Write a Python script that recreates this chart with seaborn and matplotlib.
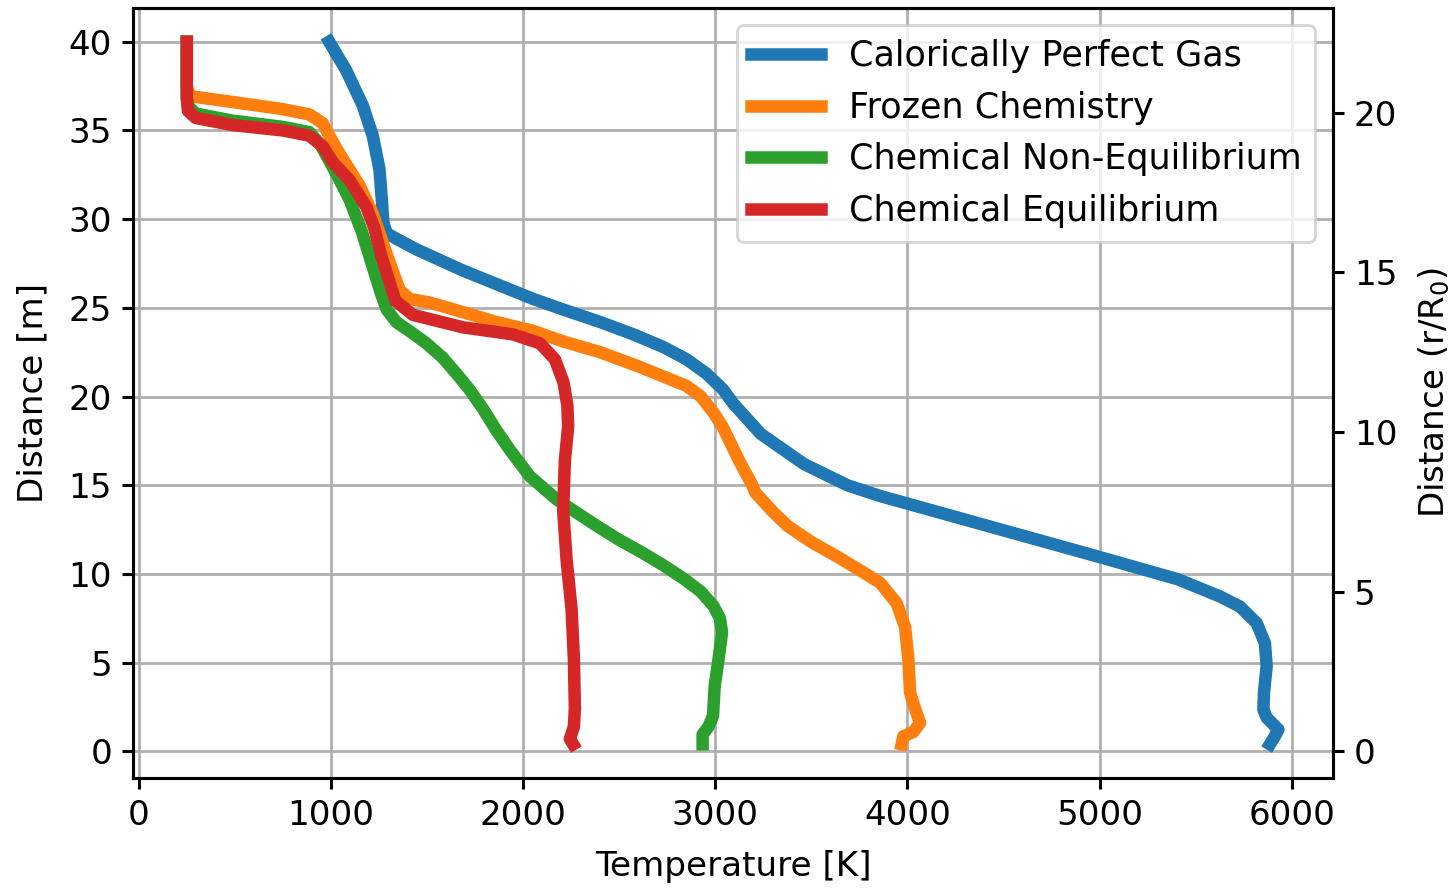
import matplotlib
matplotlib.use("Agg")
import matplotlib.pyplot as plt
import numpy as np
import pandas as pd
import seaborn as sns

# ---------------- data ----------------
series_names = ["Calorically Perfect Gas", "Frozen Chemistry",
                "Chemical Non-Equilibrium", "Chemical Equilibrium"]
series_colors = ["#1f77b4", "#ff7f0e", "#2ca02c", "#d62728"]

cpg_T = [990, 1078, 1165, 1217, 1252, 1265, 1272, 1290, 1339, 1443, 1687, 2052,
         2209, 2401, 2574, 2728, 2850, 2953, 3040, 3094, 3236, 3461, 3687, 3856,
         4420, 4985, 5408, 5627, 5731, 5818, 5861, 5870, 5856, 5853, 5870, 5931,
         5913, 5887]
cpg_d = [40.0, 38.4, 36.4, 34.7, 32.8, 31.0, 29.8, 29.2, 28.9, 28.3, 27.1, 25.5,
         24.9, 24.2, 23.5, 22.8, 22.1, 21.3, 20.4, 19.6, 17.9, 16.2, 15.0, 14.4,
         12.7, 11.0, 9.7, 8.73, 8.16, 7.23, 6.1, 4.8, 3.3, 2.36, 1.9, 1.23, 0.86,
         0.4]

frozen_T = [249, 249, 262, 287, 487, 748, 887, 957, 991, 1043, 1148, 1217, 1287,
            1330, 1357, 1409, 1513, 1704, 1861, 2052, 2209, 2400, 2600, 2713, 2850,
            2925, 2990, 3038, 3123, 3193, 3207, 3300, 3377, 3500, 3631, 3754, 3858,
            3944, 3988, 4005, 4014, 4040, 4066, 4031, 3979, 3970]
frozen_d = [40.0, 37.5, 37.0, 36.9, 36.6, 36.2, 35.9, 35.4, 34.7, 33.7, 31.9, 30.3,
            28.1, 26.8, 26.0, 25.5, 25.3, 24.7, 24.2, 23.7, 23.1, 22.5, 21.7, 21.2,
            20.6, 20.0, 19.1, 18.3, 16.4, 15.0, 14.6, 13.5, 12.7, 11.8, 11.0, 10.2,
            9.5, 8.35, 7.0, 5.2, 3.3, 2.4, 1.6, 1.1, 0.85, 0.4]

noneq_T = [249, 249, 258, 296, 487, 748, 887, 945, 985, 1035, 1096, 1160, 1217,
           1260, 1290, 1339, 1420, 1496, 1580, 1652, 1720, 1791, 1860, 1930, 2035,
           2174, 2300, 2399, 2503, 2620, 2728, 2840, 2925, 2990, 3024, 3035, 3017,
           2997, 2988, 2965, 2934, 2934]
noneq_d = [40.0, 36.8, 36.35, 35.95, 35.55, 35.2, 34.9, 34.2, 33.4, 32.4, 31.1, 29.3,
           27.3, 25.8, 24.9, 24.2, 23.6, 23.0, 22.2, 21.3, 20.4, 19.3, 18.1, 17.0,
           15.5, 14.2, 13.3, 12.6, 11.9, 11.2, 10.5, 9.7, 9.0, 8.2, 7.5, 6.7, 5.2,
           3.7, 2.0, 1.4, 0.95, 0.4]

eq_T = [249, 249, 255, 296, 487, 748, 887, 957, 1009, 1096, 1183, 1225, 1262, 1300,
        1335, 1426, 1687, 1948, 2087, 2165, 2210, 2230, 2234, 2217, 2208, 2226,
        2252, 2264, 2269, 2264, 2243, 2260]
eq_d = [40.0, 36.8, 36.1, 35.7, 35.3, 35.0, 34.7, 34.1, 33.2, 32.2, 30.7, 29.5, 27.9,
        26.6, 25.4, 24.6, 23.9, 23.5, 23.0, 22.1, 20.8, 19.5, 18.3, 16.4, 13.6,
        10.8, 8.0, 5.2, 2.4, 1.4, 0.7, 0.4]

left_ticks = [0, 5, 10, 15, 20, 25, 30, 35, 40]
right_ticks = [0, 5, 10, 15, 20]
x_ticks = [0, 1000, 2000, 3000, 4000, 5000, 6000]
r0 = 1.8  # metres per r/R0 unit

# ---------------- build long-form table ----------------
frames = []
for name, T, d in zip(series_names,
                      [cpg_T, frozen_T, noneq_T, eq_T],
                      [cpg_d, frozen_d, noneq_d, eq_d]):
    frames.append(pd.DataFrame({"Temperature": T, "Distance": d, "Model": name}))
df = pd.concat(frames, ignore_index=True)

# ---------------- plot ----------------
plt.rcParams.update({"font.family": ["DejaVu Sans"], "font.size": 12.3,
                     "axes.linewidth": 1.1, "xtick.major.size": 4,
                     "ytick.major.size": 4, "xtick.major.width": 1.1,
                     "ytick.major.width": 1.1})

fig = plt.figure(figsize=(7.26, 4.44), dpi=200)
ax = fig.add_axes([0.0916, 0.1239, 0.8264, 0.8671])

sns.lineplot(data=df, x="Temperature", y="Distance", hue="Model",
             hue_order=series_names, palette=series_colors, sort=False,
             estimator=None, linewidth=4.5, legend=False, ax=ax)

ax.grid(True, color="#b0b0b0", linewidth=1.0)
ax.set_axisbelow(True)
ax.set_xlim(-31, 6215)
ax.set_ylim(-1.5, 41.9)
ax.set_xticks(x_ticks)
ax.set_yticks(left_ticks)
ax.set_xlabel("Temperature [K]", labelpad=6.5)
ax.set_ylabel("Distance [m]", labelpad=7)

lines = ax.get_lines()[:4]
leg = ax.legend(lines, series_names, loc="upper right", fontsize=12.6,
                handlelength=2.0, framealpha=0.8)

ax2 = ax.twinx()
ax2.set_ylim(-1.5 / r0, 41.9 / r0)
ax2.set_yticks(right_ticks)
ax2.set_ylabel("Distance (r/R$_0$)", labelpad=7)

fig.savefig("out.png", dpi=200)
